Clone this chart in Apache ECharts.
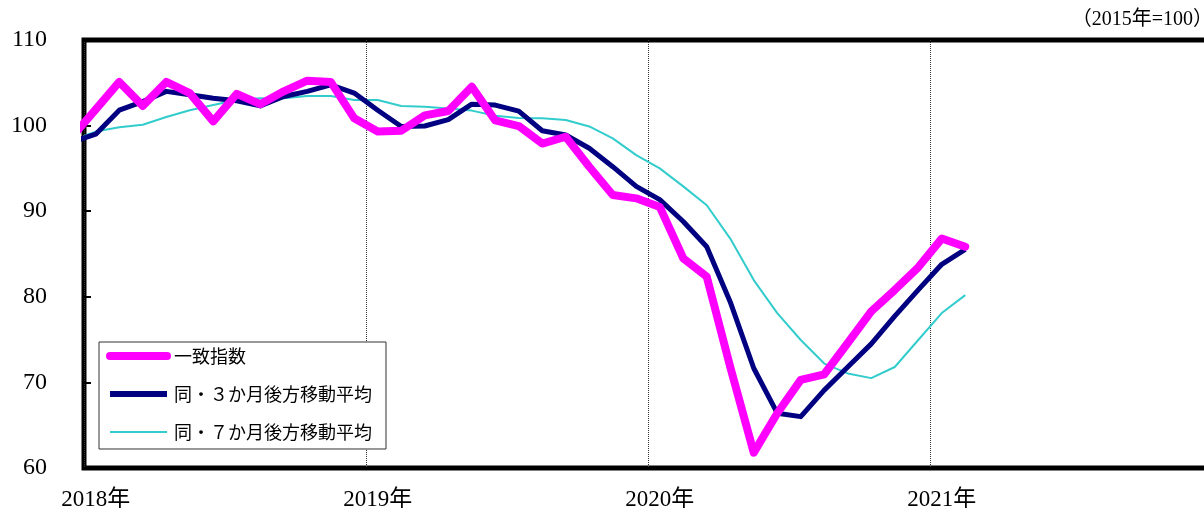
<!DOCTYPE html>
<html>
<head>
<meta charset="utf-8">
<script src="https://cdn.jsdelivr.net/npm/echarts@6/dist/echarts.min.js"></script>
<style>
  html, body { margin: 0; padding: 0; background: #fff; }
  #chart { width: 1204px; height: 508px; }
</style>
</head>
<body>
<div id="chart"></div>
<script>
// 月 (2017年12月 ～ 2021年2月), 各月の中央に点を置く
var months = [
  '2017-12',
  '2018-01','2018-02','2018-03','2018-04','2018-05','2018-06','2018-07','2018-08','2018-09','2018-10','2018-11','2018-12',
  '2019-01','2019-02','2019-03','2019-04','2019-05','2019-06','2019-07','2019-08','2019-09','2019-10','2019-11','2019-12',
  '2020-01','2020-02','2020-03','2020-04','2020-05','2020-06','2020-07','2020-08','2020-09','2020-10','2020-11','2020-12',
  '2021-01','2021-02'
];

// 一致指数
var coincident = [
  98.7,
  101.9, 105.1, 102.3, 105.1, 103.8, 100.5, 103.7, 102.5, 104.0, 105.25, 105.1, 100.85,
  99.3, 99.4, 101.2, 101.7, 104.55, 100.6, 99.95, 97.9, 98.7, 95.2, 91.9, 91.5,
  90.5, 84.5, 82.35, 71.8, 61.8, 66.4, 70.3, 70.95, 74.6, 78.3, 80.8, 83.45,
  86.8, 85.85
];

// 同・３か月後方移動平均
var ma3 = [
  98.1,
  99.0, 101.8, 102.8, 104.0, 103.6, 103.2, 102.9, 102.3, 103.4, 104.0, 104.75, 103.8,
  101.8, 99.9, 99.95, 100.7, 102.5, 102.4, 101.7, 99.4, 98.9, 97.35, 95.2, 92.9,
  91.35, 88.8, 85.85, 79.4, 71.65, 66.4, 66.0, 69.1, 71.8, 74.5, 77.75, 80.8,
  83.8, 85.55
];

// 同・７か月後方移動平均
var ma7 = [
  98.3,
  99.3, 99.8, 100.1, 101.0, 101.8, 102.4, 103.0, 103.2, 103.2, 103.45, 103.45, 103.0,
  103.0, 102.3, 102.2, 102.0, 101.75, 101.15, 100.9, 100.85, 100.65, 99.9, 98.5, 96.55,
  95.0, 92.9, 90.7, 86.8, 81.95, 78.1, 74.95, 72.2, 71.05, 70.5, 71.8, 74.95,
  78.1, 80.2
];

var years = ['2018年', '2019年', '2020年', '2021年'];
var yTicks = [60, 70, 80, 90, 100, 110];
var names = ['一致指数', '同・３か月後方移動平均', '同・７か月後方移動平均'];

// x軸の目盛り用カテゴリ (2018年1月～2021年12月)
var axisMonths = [];
years.forEach(function(y){
  for (var m = 1; m <= 12; m++) axisMonths.push(y + m + '月');
});

function toPoints(values){
  // 2018年1月1日を0とした月単位の位置 (月の中央)
  return values.map(function(v, i){ return [i - 0.5, v]; });
}

var myChart = echarts.init(document.getElementById('chart'));

var serif = '"Liberation Serif", "Noto Sans CJK JP", serif';

var option = {
  animation: false,
  backgroundColor: '#fff',
  grid: {
    left: 84,
    width: 1128,
    top: 40,
    height: 428,
    outerBoundsMode: 'none',
    show: true,
    borderColor: '#000',
    borderWidth: 5
  },
  graphic: [{
    type: 'text',
    right: -9,
    top: 10,
    style: {
      text: '（2015年=100）',
      font: '20px ' + serif,
      fill: '#000'
    }
  }],
  legend: {
    orient: 'vertical',
    left: 99,
    top: 342,
    data: [
      { name: names[0], lineStyle: { width: 8 } },
      { name: names[1], lineStyle: { width: 6 } },
      { name: names[2], lineStyle: { width: 2 } }
    ],
    itemWidth: 57,
    itemHeight: 14,
    itemGap: 20,
    padding: [5, 14, 8, 7],
    borderColor: '#333',
    borderWidth: 1,
    backgroundColor: '#fff',
    itemStyle: { color: 'rgba(0,0,0,0)', borderWidth: 0 },
    textStyle: {
      fontFamily: '"Noto Sans CJK JP"',
      fontSize: 18,
      color: '#000',
      padding: [0, 0, 0, 2]
    }
  },
  xAxis: [{
    type: 'value',
    min: 0,
    max: 48,
    interval: 12,
    axisLine: { show: false },
    axisTick: { show: false },
    axisLabel: { show: false },
    splitLine: {
      show: true,
      lineStyle: { color: '#333', type: 'dotted', width: 1 }
    }
  }, {
    type: 'category',
    position: 'bottom',
    data: axisMonths,
    boundaryGap: true,
    axisLine: { show: false },
    axisTick: { show: false },
    splitLine: { show: false },
    axisLabel: {
      interval: 0,
      margin: 20,
      fontFamily: serif,
      fontSize: 23,
      color: '#000',
      formatter: function(v, i){
        return i % 12 === 0 ? years[i / 12] : '';
      }
    }
  }],
  yAxis: {
    type: 'value',
    min: yTicks[0],
    max: yTicks[yTicks.length - 1],
    interval: 10,
    axisLine: { show: false },
    axisTick: {
      show: true,
      inside: true,
      length: 7,
      lineStyle: { color: '#000', width: 2 }
    },
    splitLine: { show: false },
    axisLabel: {
      margin: 37,
      fontFamily: serif,
      fontSize: 24,
      color: '#000'
    }
  },
  series: [{
    name: names[0],
    type: 'line',
    xAxisIndex: 0,
    data: toPoints(coincident),
    symbol: 'none',
    z: 4,
    lineStyle: { color: '#ff00ff', width: 8, cap: 'round', join: 'round' },
    itemStyle: { color: '#ff00ff' }
  }, {
    name: names[1],
    type: 'line',
    xAxisIndex: 0,
    data: toPoints(ma3),
    symbol: 'none',
    z: 3,
    lineStyle: { color: '#000080', width: 5, join: 'round' },
    itemStyle: { color: '#000080' }
  }, {
    name: names[2],
    type: 'line',
    xAxisIndex: 0,
    data: toPoints(ma7),
    symbol: 'none',
    z: 2,
    lineStyle: { color: '#33cccc', width: 2 },
    itemStyle: { color: '#33cccc' }
  }]
};

myChart.setOption(option);
</script>
</body>
</html>
